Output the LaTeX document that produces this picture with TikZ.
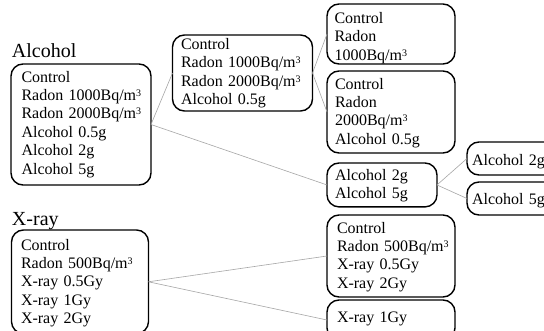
\documentclass[tikz,border=0pt]{standalone}
\usepackage{fontspec}
\setmainfont{Liberation Serif}
\newcommand\topgap[1]{\rule{0pt}{#1pt}}
\newcommand\botgap[1]{\rule[-#1pt]{0pt}{0pt}}
\newcommand\cubed{\raisebox{4pt}{\fontsize{10}{10}\selectfont 3}}
\begin{document}
\begin{tikzpicture}[x=1pt,y=-1pt,
  box/.style={draw, line width=1.4pt, rounded corners=12pt, anchor=north west,
    inner ysep=0pt, outer sep=0pt, align=left, font=\fontsize{16}{18.4}\selectfont},
  head/.style={anchor=base west, inner sep=0pt, outer sep=0pt, font=\fontsize{20}{24}\selectfont},
  link/.style={draw=gray!70, line width=0.6pt}]
\useasboundingbox (0,0) rectangle (544,330);
\fill[white] (0,0) rectangle (544,330);
\clip (0,0) rectangle (544,330);
\node[head] (hA) at (12,57.7) {Alcohol};
\node[head] (hX) at (12,225) {X-ray};
\node[box, inner xsep=10.5pt, text width=119pt] (a1) at (11,64)
  {\topgap{18}Control\\Radon~1000Bq/m\cubed\\Radon~2000Bq/m\cubed\\Alcohol~0.5g\\Alcohol~2g\\Alcohol~5g\botgap{11}};
\node[box, inner xsep=8.5pt, text width=123pt] (a2) at (172.5,35)
  {\topgap{14.3}Control\\Radon~1000Bq/m\cubed\\Radon~2000Bq/m\cubed\\Alcohol~0.5g\botgap{6.5}};
\node[box, inner xsep=7.5pt, text width=113pt] (a3) at (327,4)
  {\topgap{19.3}Control\\Radon\\1000Bq/m\cubed\botgap{3.9}};
\node[box, inner xsep=8pt, text width=112pt] (a4) at (327,71)
  {\topgap{18}Control\\Radon\\2000Bq/m\cubed\\Alcohol~0.5g\botgap{8.8}};
\node[box, inner xsep=8pt, text width=94pt] (a5) at (327,163)
  {\topgap{17.5}Alcohol~2g\\Alcohol~5g\botgap{8}};
\node[box, inner xsep=5pt, text width=83pt] (a6) at (467,142)
  {\topgap{23}Alcohol~2g\botgap{10}};
\node[box, inner xsep=5pt, text width=83pt] (a7) at (467,182)
  {\topgap{22}Alcohol~5g\botgap{11}};
\node[box, inner xsep=9.5pt, text width=118pt] (x1) at (11.5,230)
  {\topgap{20}Control\\Radon~500Bq/m\cubed\\X-ray~0.5Gy\\X-ray~1Gy\\X-ray~2Gy\botgap{10}};
\node[box, inner xsep=10pt, text width=108pt] (x2) at (327,215)
  {\topgap{18}Control\\Radon~500Bq/m\cubed\\X-ray~0.5Gy\\X-ray~2Gy\botgap{8.8}};
\node[box, inner xsep=10pt, text width=108pt] (x3) at (327,300)
  {\topgap{22}X-ray~1Gy\botgap{18}};
\draw[link] (a1.east) -- (a2.west);
\draw[link] (a1.east) -- (a5.west);
\draw[link] (a2.east) -- (a3.west);
\draw[link] (a2.east) -- (a4.west);
\draw[link] (a5.east) -- (a6.west);
\draw[link] (a5.east) -- (a7.west);
\draw[link] (x1.east) -- (x2.west);
\draw[link] (x1.east) -- (x3.west);
\end{tikzpicture}
\end{document}
